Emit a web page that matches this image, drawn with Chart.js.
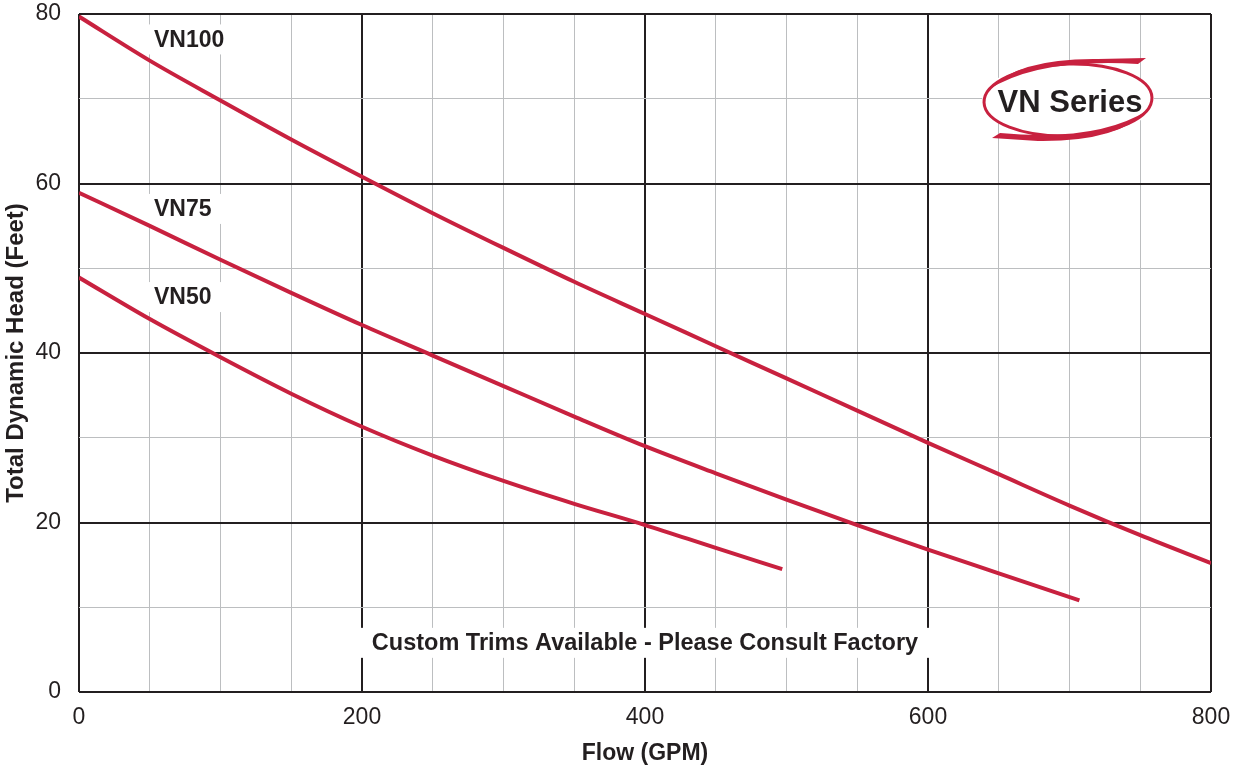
<!DOCTYPE html>
<html>
<head>
<meta charset="utf-8">
<script src="https://cdn.jsdelivr.net/npm/chart.js@4.4.1/dist/chart.umd.min.js"></script>
<style>
  html, body { margin: 0; padding: 0; background: #fff; }
  #pumpChart { display: block; }
</style>
</head>
<body>
<canvas id="pumpChart" width="1244" height="769"></canvas>
<script>
// pump curves (flow in GPM, head in feet)
var flow100 = [0, 50, 100, 150, 200, 250, 300, 350, 400, 450, 500, 550, 600, 650, 700, 750, 800];
var head100 = [79.7, 74.5, 69.8, 65.2, 60.8, 56.5, 52.4, 48.4, 44.6, 40.8, 37.0, 33.2, 29.4, 25.7, 22.0, 18.5, 15.2];

var flow75 = [0, 50, 100, 150, 200, 250, 300, 350, 400, 450, 500, 550, 600, 650, 707];
var head75 = [58.9, 55.0, 51.0, 47.1, 43.3, 39.7, 36.1, 32.5, 29.0, 25.8, 22.7, 19.7, 16.8, 14.0, 10.8];

var flow50 = [0, 50, 100, 150, 200, 250, 300, 350, 400, 450, 497];
var head50 = [48.9, 44.0, 39.5, 35.2, 31.3, 27.9, 24.9, 22.2, 19.7, 17.0, 14.5];

var seriesNames = ['VN100', 'VN75', 'VN50'];
var xLabelTicks = [0, 200, 400, 600, 800];
var yLabelTicks = [0, 20, 40, 60, 80];

var RED = '#c8213f';
var INK = '#231f20';
var MINOR = '#bcbec0';
var FONT = "'Liberation Sans', Arial, sans-serif";

function pts(xs, ys) {
  return xs.map(function (x, i) { return { x: x, y: ys[i] }; });
}

function curve(name, xs, ys) {
  return {
    label: name,
    data: pts(xs, ys),
    borderColor: RED,
    borderWidth: 4,
    pointRadius: 0,
    cubicInterpolationMode: 'monotone',
    fill: false
  };
}

// white box that knocks out the grid, then the text on it
function knockBox(ctx, x0, x1, y) {
  ctx.fillStyle = '#fff';
  ctx.fillRect(x0, y - 15, x1 - x0, 30);
}
function putText(ctx, text, x, y, font, align) {
  ctx.font = font;
  ctx.fillStyle = INK;
  ctx.textAlign = align;
  ctx.textBaseline = 'middle';
  ctx.fillText(text, x, y + 1);
}

var annotations = {
  id: 'annotations',
  beforeDatasetsDraw: function (chart) {
    var ctx = chart.ctx;
    var xs = chart.scales.x, ys = chart.scales.y;
    var boldFont = 'bold 23px ' + FONT;
    // series names sit on the left side of each curve
    var nameY = [77.0, 57.0, 46.6];
    ctx.save();
    seriesNames.forEach(function (n, i) {
      var py = ys.getPixelForValue(nameY[i]);
      knockBox(ctx, xs.getPixelForValue(48.5), xs.getPixelForValue(102), py);
      putText(ctx, n, xs.getPixelForValue(53), py, boldFont, 'left');
    });
    var ny = ys.getPixelForValue(5.8);
    knockBox(ctx, xs.getPixelForValue(198), xs.getPixelForValue(602), ny);
    putText(ctx, 'Custom Trims Available - Please Consult Factory',
      xs.getPixelForValue(400), ny, 'bold 23.5px ' + FONT, 'center');

    // VN Series badge
    var cx = 1068, cy = 100;
    ctx.translate(cx, cy);
    ctx.fillStyle = '#fff';
    ctx.beginPath();
    ctx.ellipse(0, 0, 86, 38, 0, 0, Math.PI * 2);
    ctx.fill();
    ctx.strokeStyle = RED;
    ctx.lineWidth = 3;
    ctx.beginPath();
    ctx.ellipse(0, 0, 84, 36, -0.03, 0, Math.PI * 2);
    ctx.stroke();
    ctx.fillStyle = RED;
    // top swoosh
    ctx.beginPath();
    ctx.moveTo(-80, -10);
    ctx.quadraticCurveTo(-50, -42, 30, -41);
    ctx.lineTo(78, -42);
    ctx.lineTo(70, -36);
    ctx.quadraticCurveTo(-30, -42, -80, -10);
    ctx.fill();
    // bottom swoosh
    ctx.beginPath();
    ctx.moveTo(80, 10);
    ctx.quadraticCurveTo(50, 42, -30, 41);
    ctx.lineTo(-76, 38);
    ctx.lineTo(-68, 33);
    ctx.quadraticCurveTo(30, 42, 80, 10);
    ctx.fill();
    ctx.fillStyle = INK;
    ctx.font = 'bold 31px ' + FONT;
    ctx.textAlign = 'center';
    ctx.textBaseline = 'middle';
    ctx.fillText('VN Series', 2, 3);
    ctx.restore();
  }
};

function gridColor(c, major) {
  return c.tick && c.tick.value % major === 0 ? INK : MINOR;
}
function gridWidth(c, major) {
  return c.tick && c.tick.value % major === 0 ? 2 : 1;
}

var ctx = document.getElementById('pumpChart').getContext('2d');
new Chart(ctx, {
  type: 'line',
  data: {
    datasets: [
      curve(seriesNames[0], flow100, head100),
      curve(seriesNames[1], flow75, head75),
      curve(seriesNames[2], flow50, head50)
    ]
  },
  options: {
    responsive: false,
    animation: false,
    devicePixelRatio: 1,
    layout: { padding: { top: 14, right: 33, left: 0, bottom: 0 } },
    plugins: {
      legend: { display: false },
      tooltip: { enabled: false }
    },
    scales: {
      x: {
        type: 'linear',
        min: 0,
        max: 800,
        afterFit: function (s) { s.height = 77; s.paddingLeft = 0; s.paddingRight = 0; },
        border: { display: false },
        grid: {
          drawTicks: false,
          color: function (c) { return gridColor(c, 200); },
          lineWidth: function (c) { return gridWidth(c, 200); }
        },
        ticks: {
          stepSize: 50,
          autoSkip: false,
          maxRotation: 0,
          padding: 12,
          color: INK,
          font: { family: FONT, size: 23 },
          callback: function (v) { return xLabelTicks.indexOf(v) >= 0 ? String(v) : ''; }
        },
        title: {
          display: true,
          text: 'Flow (GPM)',
          color: INK,
          font: { family: FONT, size: 23, weight: 'bold' },
          padding: { top: 0, bottom: 2 }
        }
      },
      y: {
        type: 'linear',
        min: 0,
        max: 80,
        afterFit: function (s) { s.width = 79; s.paddingTop = 0; s.paddingBottom = 0; },
        border: { display: false },
        grid: {
          drawTicks: false,
          color: function (c) { return gridColor(c, 20); },
          lineWidth: function (c) { return gridWidth(c, 20); }
        },
        ticks: {
          stepSize: 10,
          autoSkip: false,
          padding: 18,
          color: INK,
          font: { family: FONT, size: 23 },
          callback: function (v) { return yLabelTicks.indexOf(v) >= 0 ? String(v) : ''; }
        },
        title: {
          display: true,
          text: 'Total Dynamic Head (Feet)',
          color: INK,
          font: { family: FONT, size: 24, weight: 'bold' },
          padding: { top: 2, bottom: 0 }
        }
      }
    }
  },
  plugins: [annotations]
});
</script>
</body>
</html>
